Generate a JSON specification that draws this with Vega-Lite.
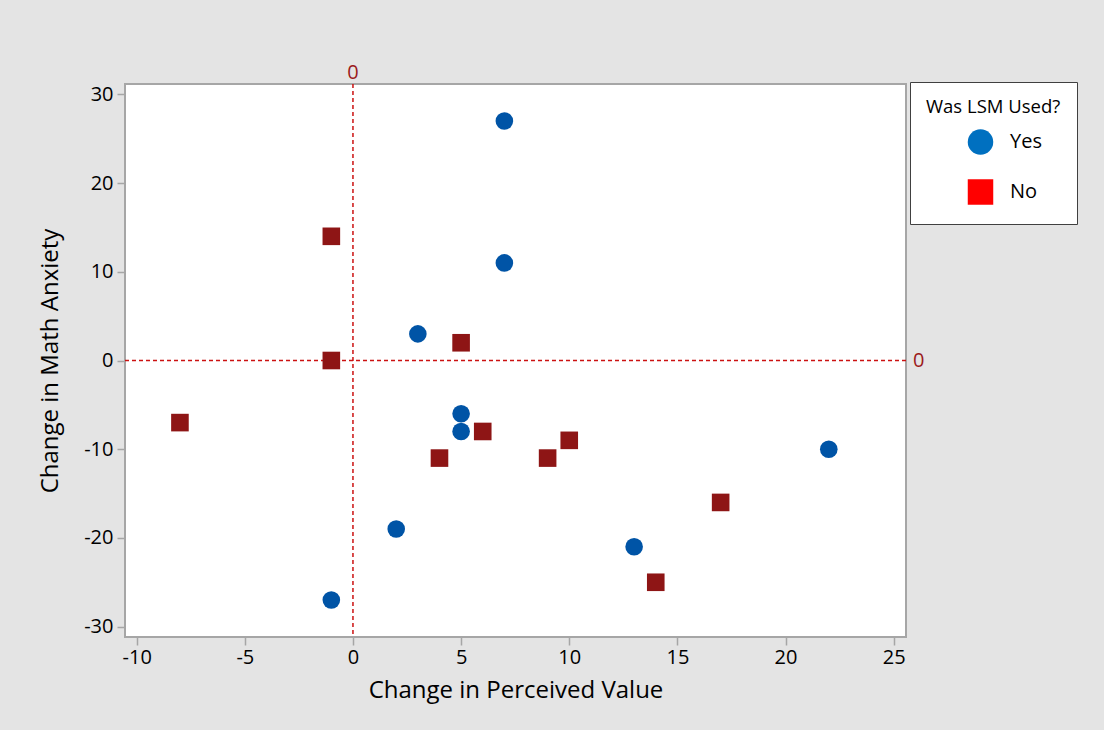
{
  "$schema": "https://vega.github.io/schema/vega-lite/v6.json",
  "autosize": "none",
  "width": 781,
  "height": 553,
  "padding": {"left": 125, "top": 84, "right": 198, "bottom": 93},
  "background": "#E4E4E4",
  "config": {
    "font": "Open Sans",
    "view": {"fill": "white", "stroke": "#A6A6A6", "strokeWidth": 2},
    "axis": {
      "grid": false,
      "domain": false,
      "tickColor": "#A6A6A6",
      "tickSize": 8,
      "tickWidth": 1.5,
      "labelFont": "Open Sans",
      "labelFontSize": 20,
      "labelColor": "#000000",
      "labelExpr": "replace(datum.label, '\u2212', '-')",
      "titleFont": "Open Sans",
      "titleFontSize": 24,
      "titleFontWeight": "normal",
      "titleColor": "#000000"
    },
    "legend": {
      "orient": "none",
      "legendX": 785,
      "legendY": -2,
      "fillColor": "white",
      "strokeColor": "#404040",
      "padding": 16,
      "titleFont": "Open Sans",
      "titleFontSize": 18.5,
      "titleFontWeight": "normal",
      "titleColor": "#000000",
      "titlePadding": 12,
      "labelFont": "Open Sans",
      "labelFontSize": 20,
      "labelColor": "#000000",
      "labelOffset": 16,
      "symbolOffset": 41,
      "rowPadding": 17,
      "symbolSize": 650,
      "symbolOpacity": 1
    }
  },
  "datasets": {
    "pts": [
      {"pv": 7, "ma": 27, "lsm": "Yes"},
      {"pv": 7, "ma": 11, "lsm": "Yes"},
      {"pv": 3, "ma": 3, "lsm": "Yes"},
      {"pv": 5, "ma": -6, "lsm": "Yes"},
      {"pv": 5, "ma": -8, "lsm": "Yes"},
      {"pv": 2, "ma": -19, "lsm": "Yes"},
      {"pv": -1, "ma": -27, "lsm": "Yes"},
      {"pv": 13, "ma": -21, "lsm": "Yes"},
      {"pv": 22, "ma": -10, "lsm": "Yes"},
      {"pv": -1, "ma": 14, "lsm": "No"},
      {"pv": -1, "ma": 0, "lsm": "No"},
      {"pv": 5, "ma": 2, "lsm": "No"},
      {"pv": -8, "ma": -7, "lsm": "No"},
      {"pv": 4, "ma": -11, "lsm": "No"},
      {"pv": 6, "ma": -8, "lsm": "No"},
      {"pv": 9, "ma": -11, "lsm": "No"},
      {"pv": 10, "ma": -9, "lsm": "No"},
      {"pv": 17, "ma": -16, "lsm": "No"},
      {"pv": 14, "ma": -25, "lsm": "No"}
    ]
  },
  "resolve": {"scale": {"color": "independent", "shape": "independent"}},
  "layer": [
    {
      "data": {"values": [{"v": 0}]},
      "mark": {"type": "rule", "color": "#CC1111", "strokeDash": [4, 3], "strokeWidth": 1.5},
      "encoding": {
        "x": {
          "field": "v", "type": "quantitative",
          "scale": {"domain": [-10.54, 25.57], "nice": false, "zero": false},
          "axis": {"values": [-10, -5, 0, 5, 10, 15, 20, 25], "title": "Change in Perceived Value", "titlePadding": 11, "labelPadding": 2}
        }
      }
    },
    {
      "data": {"values": [{"v": 0}]},
      "mark": {"type": "rule", "color": "#CC1111", "strokeDash": [4, 3], "strokeWidth": 1.5},
      "encoding": {
        "y": {
          "field": "v", "type": "quantitative",
          "scale": {"domain": [-31.17, 31.17], "nice": false, "zero": false},
          "axis": {"values": [-30, -20, -10, 0, 10, 20, 30], "title": "Change in Math Anxiety", "titlePadding": 21, "labelPadding": 4}
        }
      }
    },
    {
      "data": {"values": [{"x": 0, "y": 31.17, "label": "0"}]},
      "mark": {"type": "text", "color": "#9B1B1B", "fontSize": 20, "baseline": "bottom", "align": "center", "dy": -1, "clip": false},
      "encoding": {
        "x": {"field": "x", "type": "quantitative"},
        "y": {"field": "y", "type": "quantitative"},
        "text": {"field": "label"}
      }
    },
    {
      "data": {"values": [{"x": 25.57, "y": 0, "label": "0"}]},
      "mark": {"type": "text", "color": "#9B1B1B", "fontSize": 20, "baseline": "middle", "align": "left", "dx": 7, "clip": false},
      "encoding": {
        "x": {"field": "x", "type": "quantitative"},
        "y": {"field": "y", "type": "quantitative"},
        "text": {"field": "label"}
      }
    },
    {
      "data": {"name": "pts"},
      "mark": {"type": "point", "filled": true, "opacity": 0, "size": 300},
      "encoding": {
        "x": {"field": "pv", "type": "quantitative"},
        "y": {"field": "ma", "type": "quantitative"},
        "color": {
          "field": "lsm", "type": "nominal",
          "scale": {"domain": ["Yes", "No"], "range": ["#0070C0", "#FF0000"]},
          "legend": {"title": "Was LSM Used?"}
        },
        "shape": {
          "field": "lsm", "type": "nominal",
          "scale": {"domain": ["Yes", "No"], "range": ["circle", "square"]},
          "legend": {"title": "Was LSM Used?"}
        }
      }
    },
    {
      "data": {"name": "pts"},
      "mark": {"type": "point", "filled": true, "opacity": 1, "size": 310},
      "encoding": {
        "x": {"field": "pv", "type": "quantitative"},
        "y": {"field": "ma", "type": "quantitative"},
        "color": {
          "field": "lsm", "type": "nominal",
          "scale": {"domain": ["Yes", "No"], "range": ["#0054A6", "#8E1515"]},
          "legend": null
        },
        "shape": {
          "field": "lsm", "type": "nominal",
          "scale": {"domain": ["Yes", "No"], "range": ["circle", "square"]},
          "legend": null
        }
      }
    }
  ]
}
